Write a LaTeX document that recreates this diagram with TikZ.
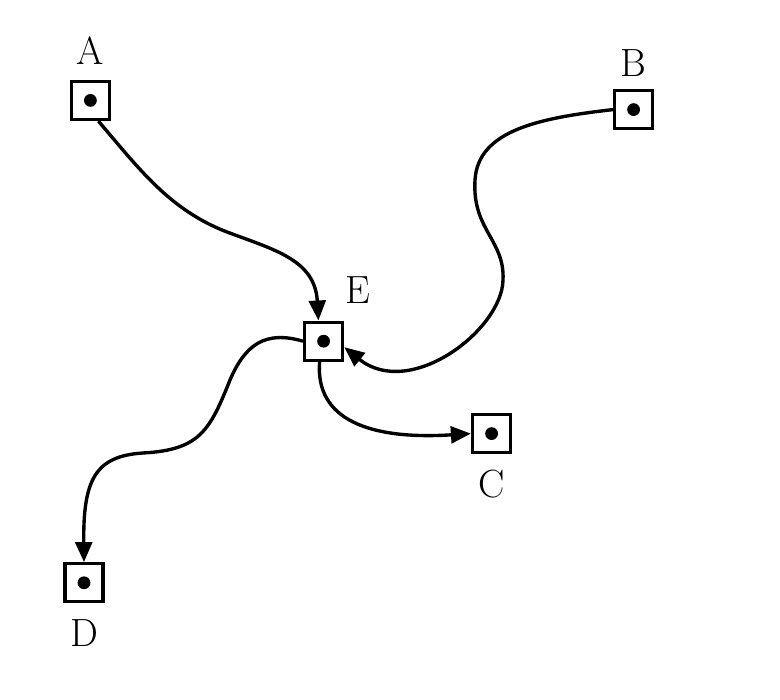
\documentclass[tikz,border=0pt]{standalone}
\usetikzlibrary{arrows.meta,positioning}
\begin{document}
\begin{tikzpicture}[line width=2.4pt,
        station/.style={draw,rectangle,minimum size=0.95cm,inner sep=0,anchor=center},
        tag/.style={inner sep=0,font=\fontsize{28}{30}\selectfont},
        flow/.style={-{Triangle[length=5mm,width=4.2mm]}}]
    \useasboundingbox (0,0) rectangle (19.5,-17.5);
    \node[station] (A) at (2.26,-2.51) {};
    \node[station] (B) at (15.84,-2.74) {};
    \node[station] (E) at (8.09,-8.53) {};
    \node[station] (C) at (12.29,-10.84) {};
    \node[station] (D) at (2.1,-14.57) {};
    \foreach \n in {A,B,C,D,E}
        \fill (\n) circle (0.16);
    \node[tag,above=0.33cm of A] (lA) {A};
    \node[tag,above=0.28cm of B] (lB) {B};
    \node[tag,above right=0.38cm and 0cm of E] (lE) {E};
    \node[tag,below=0.35cm of C] (lC) {C};
    \node[tag,below=0.37cm of D] (lD) {D};
    \draw[flow] ([xshift=2mm]A.south) .. controls (3.5,-4.25) and (4.25,-5.25) .. (5.675,-5.8)
        .. controls (6.875,-6.25) and (7.875,-6.5) .. ([xshift=-1.3mm]E.north);
    \draw[flow] (B.west) .. controls (13.5,-2.95) and (11.95,-3.25) .. (11.875,-4.5)
        .. controls (11.8,-5.75) and (12.625,-6) .. (12.575,-7)
        .. controls (12.55,-8.25) and (10.25,-10) .. ([yshift=-1.5mm]E.east);
    \draw[flow] ([xshift=-1mm]E.south) .. controls (7.875,-10.5) and (9.25,-11) .. (C.west);
    \draw[flow] (E.west) .. controls (6.625,-8.25) and (6.125,-8.625) .. (5.75,-9.5)
        .. controls (5.25,-10.75) and (5,-11.25) .. (3.575,-11.325)
        .. controls (2.375,-11.4) and (2.075,-12) .. (D.north);
\end{tikzpicture}
\end{document}
